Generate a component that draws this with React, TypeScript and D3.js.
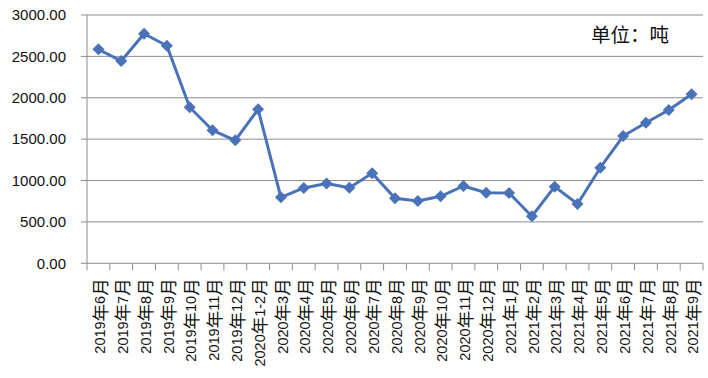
import React from "react";
import * as d3 from "d3";

const categories = [
  "2019年6月", "2019年7月", "2019年8月", "2019年9月", "2019年10月", "2019年11月", "2019年12月",
  "2020年1-2月", "2020年3月", "2020年4月", "2020年5月", "2020年6月", "2020年7月", "2020年8月",
  "2020年9月", "2020年10月", "2020年11月", "2020年12月", "2021年1月", "2021年2月", "2021年3月",
  "2021年4月", "2021年5月", "2021年6月", "2021年7月", "2021年8月", "2021年9月",
];
const values = [
  2585, 2444, 2774, 2629, 1885, 1607, 1486, 1861, 797, 910, 965, 912, 1087, 785,
  753, 809, 934, 853, 849, 568, 926, 716, 1155, 1538, 1699, 1852, 2042,
];
const yTicks = [0, 500, 1000, 1500, 2000, 2500, 3000];
const unitLabel = "单位：吨";

const W = 708, H = 378;
const left = 87, right = 703, top = 15, bottom = 263.3;
const font = "'Liberation Sans', 'Noto Sans CJK SC', sans-serif";
const cjkFont = "'Noto Sans CJK SC', sans-serif";
const latinSize = 14.5;
const cjkSize = 17.5;
const cjkShift = 1.5;

function splitRuns(s: string) {
  const runs: { t: string; cjk: boolean }[] = [];
  for (const ch of s) {
    const cjk = /[\u4e00-\u9fff]/.test(ch);
    const last = runs[runs.length - 1];
    if (last && last.cjk === cjk) last.t += ch;
    else runs.push({ t: ch, cjk });
  }
  return runs;
}

export default function App() {
  const x = d3.scaleBand<string>().domain(categories).range([left, right]);
  const y = d3.scaleLinear().domain([0, 3000]).range([bottom, top]);
  const cx = (c: string) => (x(c) as number) + x.bandwidth() / 2;
  const line = d3.line<number>().x((_, i) => cx(categories[i])).y((d) => y(d));
  const r = 6;
  const diamond = `M0,${-r}L${r},0L0,${r}L${-r},0Z`;
  const tickXs = categories.map((c) => x(c) as number).concat([right]);

  return (
    <svg width={W} height={H} style={{ position: "absolute", left: 0, top: 0, background: "#fff" }}>
      {yTicks.map((t) => (
        <g key={t}>
          <line x1={left - 6} x2={right} y1={y(t)} y2={y(t)} stroke="#8c8c8c" strokeWidth={1} />
          <text x={66} y={y(t)} dy="0.35em" textAnchor="end" fontSize={15} fontFamily={font} fill="#111">
            {t.toFixed(2)}
          </text>
        </g>
      ))}
      <line x1={left} x2={left} y1={top} y2={bottom} stroke="#8c8c8c" strokeWidth={1} />
      {tickXs.map((tx, i) => (
        <line key={i} x1={tx} x2={tx} y1={bottom} y2={bottom + 7} stroke="#8c8c8c" strokeWidth={1} />
      ))}
      {categories.map((c) => (
        <text
          key={c}
          transform={`translate(${cx(c) + 1.5},${bottom + 15}) rotate(-90)`}
          y={latinSize * 0.36}
          textAnchor="end"
          fontSize={latinSize}
          fontFamily={font}
          fill="#111"
        >
          {splitRuns(c).map((run, i) => (
            <tspan
              key={i}
              dy={i === 0 ? 0 : run.cjk ? cjkShift : -cjkShift}
              fontFamily={run.cjk ? cjkFont : font}
              fontSize={run.cjk ? cjkSize : latinSize}
            >
              {run.t}
            </tspan>
          ))}
        </text>
      ))}
      <path d={line(values) as string} fill="none" stroke="#4a72b8" strokeWidth={3} strokeLinejoin="round" />
      {values.map((v, i) => (
        <path key={i} d={diamond} transform={`translate(${cx(categories[i])},${y(v)})`} fill="#4a72b8" />
      ))}
      <text x={591} y={35} dy="0.35em" fontSize={19.5} fontFamily={cjkFont} fill="#111">
        {unitLabel}
      </text>
    </svg>
  );
}
